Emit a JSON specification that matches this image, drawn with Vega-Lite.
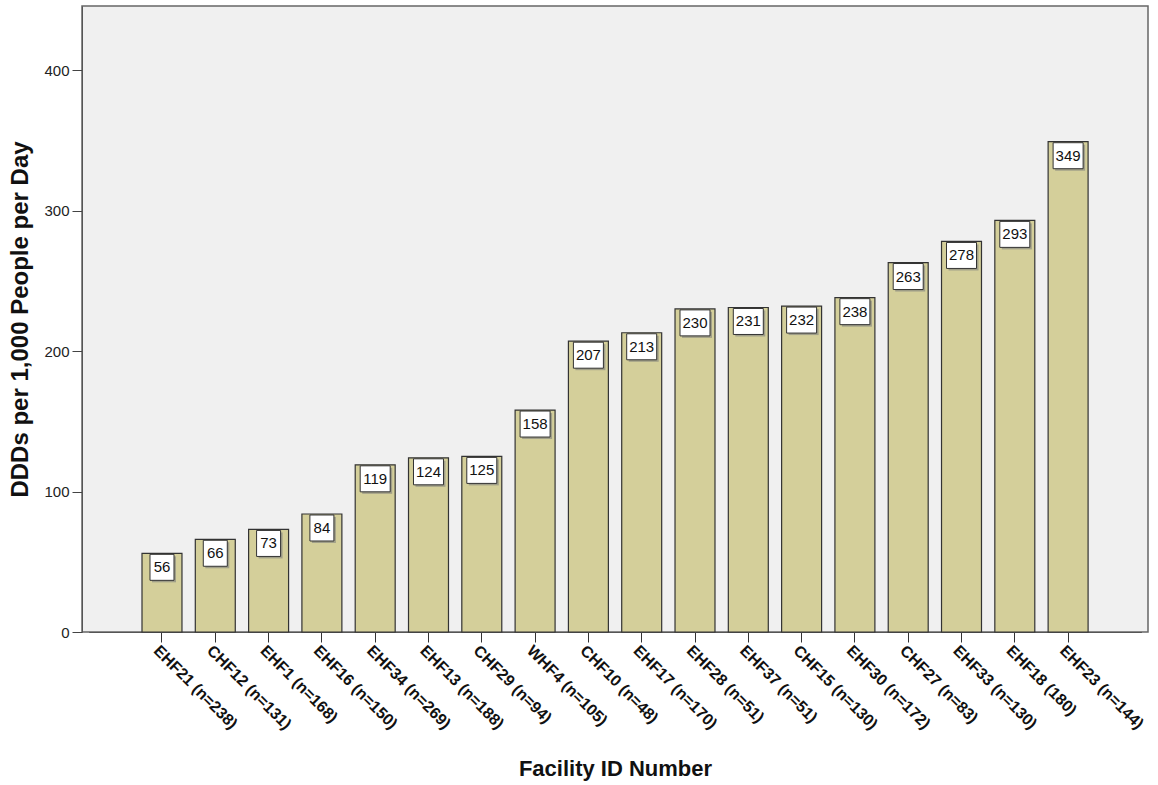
{
  "$schema": "https://vega.github.io/schema/vega-lite/v6.json",
  "autosize": {"type": "none"},
  "width": 1066,
  "height": 626,
  "padding": {"left": 82, "top": 6, "right": 10, "bottom": 153},
  "background": "white",
  "config": {
    "view": {"fill": "#f0f0f0", "stroke": "#666666", "strokeWidth": 1.5},
    "font": "Liberation Sans"
  },
  "data": {
    "values": [
      {"facility": "EHF21 (n=238)", "ddd": 56},
      {"facility": "CHF12 (n=131)", "ddd": 66},
      {"facility": "EHF1 (n=168)", "ddd": 73},
      {"facility": "EHF16 (n=150)", "ddd": 84},
      {"facility": "EHF34 (n=269)", "ddd": 119},
      {"facility": "EHF13 (n=188)", "ddd": 124},
      {"facility": "CHF29 (n=94)", "ddd": 125},
      {"facility": "WHF4 (n=105)", "ddd": 158},
      {"facility": "CHF10 (n=48)", "ddd": 207},
      {"facility": "EHF17 (n=170)", "ddd": 213},
      {"facility": "EHF28 (n=51)", "ddd": 230},
      {"facility": "EHF37 (n=51)", "ddd": 231},
      {"facility": "CHF15 (n=130)", "ddd": 232},
      {"facility": "EHF30 (n=172)", "ddd": 238},
      {"facility": "CHF27 (n=83)", "ddd": 263},
      {"facility": "EHF33 (n=130)", "ddd": 278},
      {"facility": "EHF18 (180)", "ddd": 293},
      {"facility": "EHF23 (n=144)", "ddd": 349}
    ]
  },
  "encoding": {
    "x": {
      "field": "facility",
      "type": "nominal",
      "sort": null,
      "scale": {"paddingInner": 0.25, "paddingOuter": 1, "range": [6.7, 1059.4]},
      "axis": {
        "title": "Facility ID Number",
        "titleFontSize": 22,
        "titleFontWeight": "bold",
        "titleColor": "#111111",
        "titleX": 533,
        "titleY": 136,
        "titleBaseline": "middle",
        "labelAngle": 45,
        "labelAlign": "left",
        "labelBaseline": "top",
        "labelFontSize": 16,
        "labelFontWeight": "bold",
        "labelColor": "#111111",
        "labelPadding": 0,
        "tickSize": 10,
        "tickColor": "#333333",
        "domainColor": "#555555",
        "labelOverlap": false
      }
    },
    "y": {
      "field": "ddd",
      "type": "quantitative",
      "scale": {"domain": [0, 445.6], "nice": false},
      "axis": {
        "title": "DDDs per 1,000 People per Day",
        "titleFontSize": 24,
        "titleFontWeight": "bold",
        "titleColor": "#111111",
        "titlePadding": 11,
        "values": [0, 100, 200, 300, 400],
        "labelFontSize": 15,
        "labelColor": "#222222",
        "labelPadding": 3,
        "tickSize": 10,
        "tickColor": "#444444",
        "domainColor": "#555555",
        "grid": false
      }
    }
  },
  "layer": [
    {"mark": {"type": "bar", "fill": "#d4cf9a", "stroke": "#333333", "strokeWidth": 1.2}},
    {
      "mark": {"type": "tick", "orient": "horizontal", "thickness": 26, "color": "#8a8a80", "yOffset": 16, "xOffset": 2},
      "encoding": {"size": {"condition": {"test": "datum.ddd >= 100", "value": 30}, "value": 24}}
    },
    {
      "mark": {"type": "tick", "orient": "horizontal", "thickness": 26, "fill": "white", "stroke": "#333333", "strokeWidth": 1, "opacity": 1, "yOffset": 14},
      "encoding": {"size": {"condition": {"test": "datum.ddd >= 100", "value": 30}, "value": 24}}
    },
    {
      "mark": {"type": "text", "fontSize": 15, "baseline": "middle", "color": "#111111", "yOffset": 14},
      "encoding": {"text": {"field": "ddd", "type": "quantitative"}}
    }
  ]
}
